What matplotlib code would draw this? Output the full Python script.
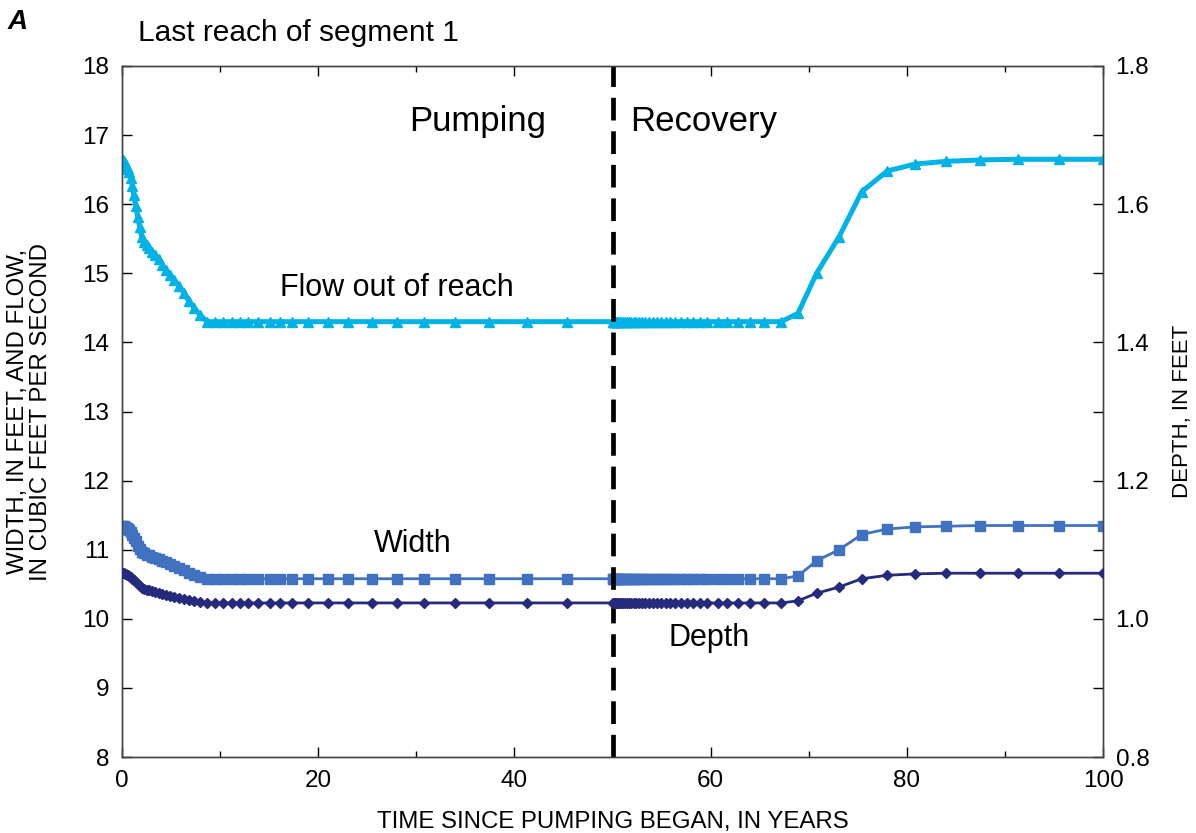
import matplotlib
matplotlib.use('Agg')
import matplotlib.pyplot as plt
from matplotlib.ticker import MultipleLocator

plt.rcParams['font.family'] = ['Liberation Sans', 'DejaVu Sans']

# time, in years since pumping began
t_pump = [0, 0.1, 0.2, 0.3, 0.4, 0.5, 0.6, 0.75, 0.9, 1.05,
          1.2, 1.4, 1.6, 1.8, 2.0, 2.25, 2.5, 2.8, 3.1, 3.4,
          3.75, 4.1, 4.5, 4.9, 5.35, 5.8, 6.3, 6.8, 7.35, 7.95,
          8.66, 9.48, 10.3, 11.2, 12.0, 12.8, 13.9, 15.1, 16.1, 17.3,
          19.0, 21.0, 23.0, 25.5, 28.0, 30.8, 33.9, 37.4, 41.3, 45.4,
          50.0]
t_recov = [50.05, 50.15, 50.25, 50.35, 50.45, 50.6, 50.75, 50.9, 51.05, 51.25,
           51.45, 51.65, 51.9, 52.15, 52.4, 52.7, 53.0, 53.35, 53.7, 54.1,
           54.5, 54.95, 55.4, 55.9, 56.4, 57.0, 57.6, 58.2, 58.9, 59.6,
           60.7, 61.7, 62.8, 64.0, 65.4, 67.2, 68.9, 70.8, 73.1, 75.4,
           78.0, 80.8, 84.0, 87.5, 91.3, 95.5, 100.0]

# flow out of reach, cubic feet per second
flow_pump = [16.65, 16.64, 16.62, 16.60, 16.57, 16.54, 16.51, 16.46, 16.38, 16.27,
             16.13, 15.97, 15.82, 15.67, 15.53, 15.46, 15.41, 15.36, 15.31, 15.26,
             15.20, 15.12, 15.05, 14.98, 14.90, 14.82, 14.72, 14.60, 14.50, 14.40,
             14.30, 14.30, 14.30, 14.30, 14.30, 14.30, 14.30, 14.30, 14.30, 14.30,
             14.30, 14.30, 14.30, 14.30, 14.30, 14.30, 14.30, 14.30, 14.30, 14.30,
             14.30]
flow_recov = [14.30, 14.30, 14.30, 14.30, 14.30, 14.30, 14.30, 14.30, 14.30, 14.30,
              14.30, 14.30, 14.30, 14.30, 14.30, 14.30, 14.30, 14.30, 14.30, 14.30,
              14.30, 14.30, 14.30, 14.30, 14.30, 14.30, 14.30, 14.30, 14.30, 14.30,
              14.30, 14.30, 14.30, 14.30, 14.30, 14.30, 14.42, 15.00, 15.53, 16.18,
              16.48, 16.58, 16.62, 16.64, 16.65, 16.65, 16.65]

# width, feet
width_pump = [11.35, 11.35, 11.34, 11.33, 11.32, 11.31, 11.30, 11.28, 11.25, 11.21,
              11.17, 11.12, 11.06, 11.01, 10.97, 10.95, 10.93, 10.92, 10.90, 10.88,
              10.86, 10.84, 10.82, 10.80, 10.77, 10.74, 10.71, 10.67, 10.63, 10.60,
              10.58, 10.58, 10.58, 10.58, 10.58, 10.58, 10.58, 10.58, 10.58, 10.58,
              10.58, 10.58, 10.58, 10.58, 10.58, 10.58, 10.58, 10.58, 10.58, 10.58,
              10.58]
width_recov = [10.58, 10.58, 10.58, 10.58, 10.58, 10.58, 10.58, 10.58, 10.58, 10.58,
               10.58, 10.58, 10.58, 10.58, 10.58, 10.58, 10.58, 10.58, 10.58, 10.58,
               10.58, 10.58, 10.58, 10.58, 10.58, 10.58, 10.58, 10.58, 10.58, 10.58,
               10.58, 10.58, 10.58, 10.58, 10.58, 10.58, 10.62, 10.84, 11.00, 11.22,
               11.30, 11.33, 11.34, 11.35, 11.35, 11.35, 11.35]

# depth, feet (right axis)
depth_pump = [1.066, 1.066, 1.066, 1.065, 1.065, 1.064, 1.063, 1.062, 1.060, 1.058,
              1.056, 1.053, 1.050, 1.047, 1.045, 1.043, 1.042, 1.041, 1.040, 1.039,
              1.038, 1.036, 1.035, 1.033, 1.032, 1.030, 1.029, 1.027, 1.026, 1.024,
              1.023, 1.023, 1.023, 1.023, 1.023, 1.023, 1.023, 1.023, 1.023, 1.023,
              1.023, 1.023, 1.023, 1.023, 1.023, 1.023, 1.023, 1.023, 1.023, 1.023,
              1.023]
depth_recov = [1.023, 1.023, 1.023, 1.023, 1.023, 1.023, 1.023, 1.023, 1.023, 1.023,
               1.023, 1.023, 1.023, 1.023, 1.023, 1.023, 1.023, 1.023, 1.023, 1.023,
               1.023, 1.023, 1.023, 1.023, 1.023, 1.023, 1.023, 1.023, 1.023, 1.023,
               1.023, 1.023, 1.023, 1.023, 1.023, 1.023, 1.026, 1.037, 1.046, 1.058,
               1.063, 1.065, 1.066, 1.066, 1.066, 1.066, 1.066]

t = t_pump + t_recov
flow = flow_pump + flow_recov
width = width_pump + width_recov
depth = depth_pump + depth_recov

fig = plt.figure(figsize=(11.96, 8.33), dpi=100)
ax = fig.add_axes([0.102, 0.0912, 0.8203, 0.8296])
ax2 = ax.twinx()

ax.plot(t, flow, color='#00b2e6', lw=3.6, marker='^', ms=7, zorder=3)
ax.plot(t, width, color='#4072c0', lw=2.0, marker='s', ms=7, zorder=3)
ax2.plot(t, depth, color='#262a7c', lw=2.0, marker='D', ms=5.5, zorder=3)
ax.axvline(50, color='black', lw=3.4, dashes=(4.8, 2.3), zorder=4)

ax.set_xlim(0, 100)
ax.set_ylim(8, 18)
ax2.set_ylim(0.8, 1.8)

ax.xaxis.set_major_locator(MultipleLocator(20))
ax.xaxis.set_minor_locator(MultipleLocator(10))
ax.yaxis.set_major_locator(MultipleLocator(1))
ax2.yaxis.set_major_locator(MultipleLocator(0.2))
ax2.yaxis.set_minor_locator(MultipleLocator(0.1))
ax2.set_yticks(ax2.get_yticks())
ax2.set_yticklabels([f'{v:.1f}' for v in ax2.get_yticks()])
ax2.set_ylim(0.8, 1.8)

ax.tick_params(axis='both', which='major', direction='in', length=7, width=1,
               labelsize=17.5, top=True, pad=9)
ax.tick_params(axis='x', which='minor', direction='in', length=4, width=1, top=True)
ax2.tick_params(axis='y', which='major', direction='in', length=7, width=1,
                labelsize=17.5, pad=9)
ax2.tick_params(axis='y', which='minor', direction='in', length=7, width=1)

for a in (ax, ax2):
    for s in a.spines.values():
        s.set_color('#444444')
        s.set_linewidth(1.0)

ax.set_xlabel('TIME SINCE PUMPING BEGAN, IN YEARS', fontsize=17.3, labelpad=14)
ax.set_ylabel('WIDTH, IN FEET, AND FLOW,\nIN CUBIC FEET PER SECOND', fontsize=17.3,
              labelpad=22, linespacing=1.05)
ax2.set_ylabel('DEPTH, IN FEET', fontsize=16, labelpad=16)

ax.text(36.2, 17.19, 'Pumping', fontsize=25, ha='center', va='center')
ax.text(59.3, 17.19, 'Recovery', fontsize=25, ha='center', va='center')
ax.text(28.0, 14.79, 'Flow out of reach', fontsize=22, ha='center', va='center')
ax.text(29.6, 11.08, 'Width', fontsize=22, ha='center', va='center')
ax.text(59.8, 9.72, 'Depth', fontsize=22, ha='center', va='center')

fig.text(138 / 1196, 1 - 33 / 833, 'Last reach of segment 1', fontsize=21.5,
         ha='left', va='center')
fig.text(8 / 1196, 1 - 22 / 833, 'A', fontsize=20, fontweight='bold',
         fontstyle='italic', ha='left', va='center')

fig.savefig('out.png', dpi=100)
